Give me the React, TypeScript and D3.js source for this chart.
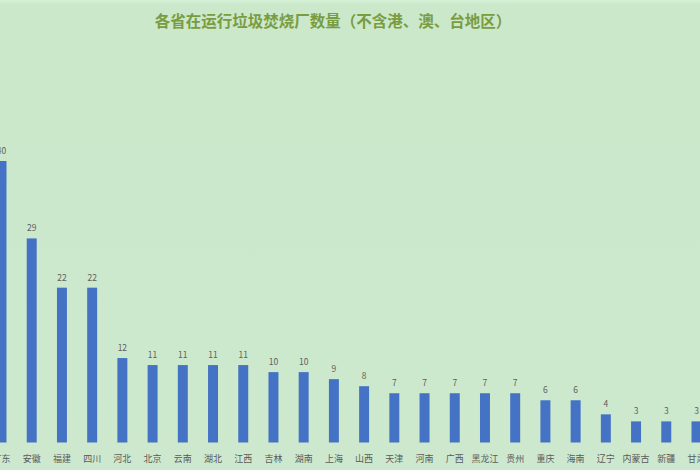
import { useEffect, useRef } from 'react';
import * as d3 from 'd3';

const provinces = [
    '广东', '安徽', '福建', '四川', '河北', '北京', '云南', '湖北',
    '江西', '吉林', '湖南', '上海', '山西', '天津', '河南', '广西',
    '黑龙江', '贵州', '重庆', '海南', '辽宁', '内蒙古', '新疆', '甘肃',
];
const plantCounts = [
    40, 29, 22, 22, 12, 11, 11, 11,
    11, 10, 10, 9, 8, 7, 7, 7,
    7, 7, 6, 6, 4, 3, 3, 3,
];
const title = '各省在运行垃圾焚烧厂数量（不含港、澳、台地区）';

const width = 700;
const height = 470;
const baseline = 442.5;
const fontFamily = '"Noto Sans CJK SC", "Noto Sans", sans-serif';

const App = () => {
    const svgRef = useRef<SVGSVGElement>(null);

    useEffect(() => {
        d3.select(svgRef.current).selectAll('*').remove();
        const svg = d3
            .select(svgRef.current)
            .attr('width', width)
            .attr('height', height);

        const grad = svg
            .append('defs')
            .append('linearGradient')
            .attr('id', 'bg')
            .attr('x1', 0)
            .attr('x2', 0)
            .attr('y1', 0)
            .attr('y2', 1);
        grad.append('stop').attr('offset', '0%').attr('stop-color', '#d6f2d6');
        grad.append('stop').attr('offset', '1%').attr('stop-color', '#cbe8cb');
        grad.append('stop').attr('offset', '100%').attr('stop-color', '#cde8ce');

        svg.append('rect')
            .attr('width', width)
            .attr('height', height)
            .attr('fill', 'url(#bg)');

        // band scale: first bar centre sits at the left edge, last one runs off the right
        const x = d3
            .scaleBand()
            .domain(provinces)
            .range([-13.6, 711.6])
            .paddingInner(0.67)
            .paddingOuter(0.335);

        const y = d3.scaleLinear().domain([0, 40]).range([baseline, 161]);

        const data = provinces.map((name, i) => ({ name, value: plantCounts[i] }));

        svg.append('g')
            .selectAll('rect')
            .data(data)
            .join('rect')
            .attr('x', d => x(d.name) ?? 0)
            .attr('y', d => y(d.value))
            .attr('width', x.bandwidth())
            .attr('height', d => baseline - y(d.value))
            .attr('fill', '#4472c4');

        // value labels
        svg.append('g')
            .selectAll('text')
            .data(data)
            .join('text')
            .attr('x', d => (x(d.name) ?? 0) + x.bandwidth() / 2)
            .attr('y', d => y(d.value) - 7)
            .attr('text-anchor', 'middle')
            .attr('font-family', fontFamily)
            .attr('font-size', 8.5)
            .attr('fill', '#606060')
            .text(d => d.value);

        // category labels
        svg.append('g')
            .selectAll('text')
            .data(data)
            .join('text')
            .attr('x', d => (x(d.name) ?? 0) + x.bandwidth() / 2)
            .attr('y', baseline + 19)
            .attr('text-anchor', 'middle')
            .attr('font-family', fontFamily)
            .attr('font-size', 9)
            .attr('fill', '#5a5a5a')
            .text(d => d.name);

        svg.append('text')
            .attr('x', 333)
            .attr('y', 27)
            .attr('text-anchor', 'middle')
            .attr('font-family', fontFamily)
            .attr('font-weight', 'bold')
            .attr('font-size', 15.5)
            .attr('fill', '#7a9c40')
            .text(title);
    }, []);

    return (
        <div style={{ position: 'fixed', left: 0, top: 0, width, height }}>
            <svg ref={svgRef} style={{ display: 'block' }}></svg>
        </div>
    );
};

export default App;
